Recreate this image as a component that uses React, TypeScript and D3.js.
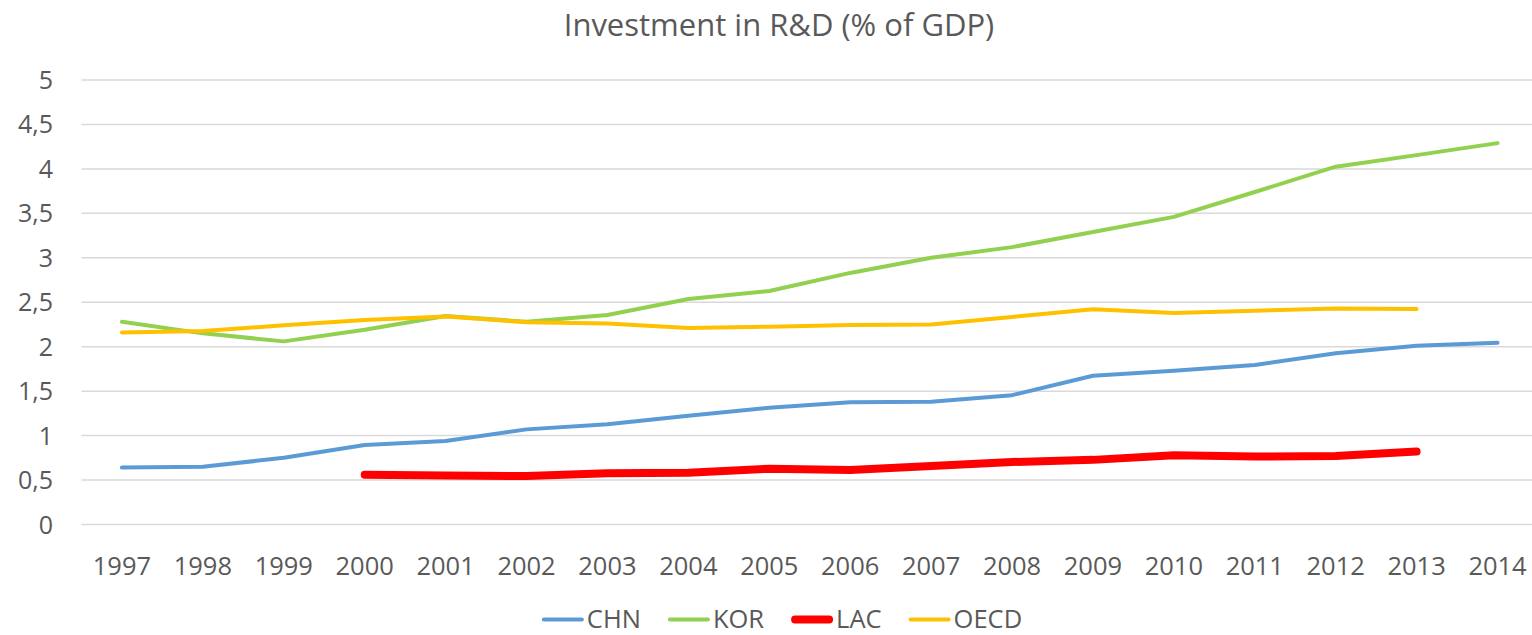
import React from "react";
import * as d3 from "d3";

const years = [1997, 1998, 1999, 2000, 2001, 2002, 2003, 2004, 2005, 2006, 2007, 2008, 2009, 2010, 2011, 2012, 2013, 2014];
const chn: (number | null)[] = [0.64, 0.65, 0.75, 0.895, 0.94, 1.07, 1.127, 1.224, 1.314, 1.374, 1.38, 1.455, 1.674, 1.73, 1.794, 1.926, 2.01, 2.045];
const kor: (number | null)[] = [2.28, 2.15, 2.06, 2.19, 2.345, 2.28, 2.357, 2.536, 2.627, 2.83, 3.0, 3.12, 3.29, 3.46, 3.74, 4.025, 4.155, 4.29];
const lac: (number | null)[] = [null, null, null, 0.56, 0.55, 0.545, 0.576, 0.583, 0.628, 0.613, 0.658, 0.703, 0.727, 0.78, 0.765, 0.77, 0.82, null];
const oecd: (number | null)[] = [2.16, 2.177, 2.24, 2.3, 2.34, 2.275, 2.26, 2.21, 2.225, 2.244, 2.25, 2.335, 2.42, 2.38, 2.405, 2.43, 2.425, null];
const yTicks = [0, 0.5, 1, 1.5, 2, 2.5, 3, 3.5, 4, 4.5, 5];
const seriesNames = ["CHN", "KOR", "LAC", "OECD"];
const seriesValues = [chn, kor, lac, oecd];
const title = "Investment in R&D (% of GDP)";

const colors = ["#5B9BD5", "#92D050", "#FF0000", "#FFC000"];
const widths = [4, 4, 8, 4];
const W = 1532;
const H = 635;
const FONT = "'Open Sans', 'Noto Sans', sans-serif";
const TXT = "#595959";

function measure(text: string, size: number) {
  if (typeof document === "undefined") return text.length * size * 0.6;
  const c = document.createElement("canvas").getContext("2d");
  if (!c) return text.length * size * 0.6;
  c.font = `${size}px 'Open Sans'`;
  return c.measureText(text).width;
}

export default function App() {
  const x = d3.scaleBand<number>().domain(years).range([81.5, 1538]).padding(0);
  const cx = (yr: number) => (x(yr) as number) + x.bandwidth() / 2;
  const y = d3.scaleLinear().domain([0, 5]).range([524.5, 80]);
  const fmt = (v: number) => String(v).replace(".", ",");

  const line = d3
    .line<number | null>()
    .defined((d) => d !== null)
    .x((_, i) => cx(years[i]))
    .y((d) => y(d as number));

  // legend layout
  const lineLen = 42;
  const gapText = 3;
  const itemGap = 27;
  const legendFont = 25.5;
  const itemWidths = seriesNames.map((n) => lineLen + gapText + measure(n, legendFont));
  const totalW = itemWidths.reduce((a, b) => a + b, 0) + itemGap * (seriesNames.length - 1);
  let lx = 782 - totalW / 2;
  const legendItems = seriesNames.map((n, i) => {
    const item = { name: n, x: lx, color: colors[i], w: widths[i] };
    lx += itemWidths[i] + itemGap;
    return item;
  });

  return (
    <svg
      width={W}
      height={H}
      style={{ position: "absolute", left: 0, top: 0, background: "#fff" }}
      fontFamily={FONT}
    >
      <rect x={0} y={0} width={W} height={H} fill="#fff" />
      <text x={779} y={36} textAnchor="middle" fontSize={31} fill={TXT}>
        {title}
      </text>
      {yTicks.map((t) => (
        <g key={t}>
          <line x1={81.5} x2={1538} y1={y(t)} y2={y(t)} stroke="#D9D9D9" strokeWidth={1.5} />
          <text x={53} y={y(t) + 9} textAnchor="end" fontSize={25} fill={TXT}>
            {fmt(t)}
          </text>
        </g>
      ))}
      {years.map((yr) => (
        <text key={yr} x={cx(yr)} y={575} textAnchor="middle" fontSize={25.5} fill={TXT}>
          {yr}
        </text>
      ))}
      {seriesValues.map((vals, i) => (
        <path
          key={seriesNames[i]}
          d={line(vals) || ""}
          fill="none"
          stroke={colors[i]}
          strokeWidth={widths[i]}
          strokeLinecap="round"
          strokeLinejoin="round"
        />
      ))}
      {legendItems.map((it) => (
        <g key={it.name}>
          <line
            x1={it.x + it.w / 2}
            x2={it.x + lineLen - it.w / 2}
            y1={619.5}
            y2={619.5}
            stroke={it.color}
            strokeWidth={it.w}
            strokeLinecap="round"
          />
          <text x={it.x + lineLen + gapText} y={627.5} fontSize={legendFont} fill={TXT}>
            {it.name}
          </text>
        </g>
      ))}
    </svg>
  );
}
